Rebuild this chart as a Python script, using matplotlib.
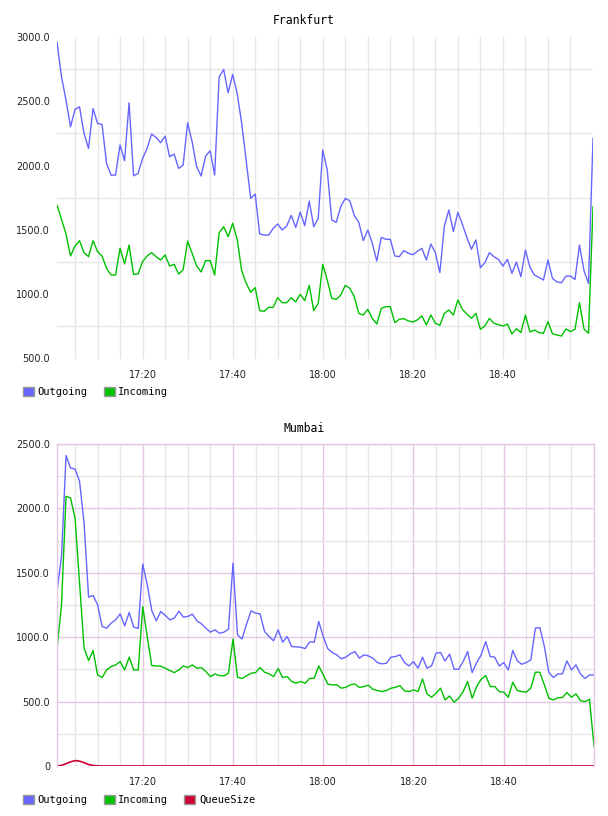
import numpy as np
import matplotlib
matplotlib.use("Agg")
import matplotlib.pyplot as plt
from matplotlib.patches import Patch
from matplotlib.ticker import FuncFormatter, MultipleLocator, FixedLocator

#######################################
# one sample per minute, 17:01 .. 19:00 (minutes after 17:00)
minutes = np.arange(1, 121)
time_ticks = [20, 40, 60, 80, 100]

fra_out = [2962, 2690, 2509, 2302, 2437, 2457, 2250, 2134, 2444, 2328,
           2320, 2017, 1926, 1926, 2160, 2038, 2488, 1921, 1939, 2056,
           2134, 2245, 2219, 2178, 2229, 2069, 2090, 1978, 2004, 2333,
           2185, 1991, 1919, 2074, 2115, 1926, 2690, 2747, 2566, 2709,
           2561, 2330, 2040, 1745, 1779, 1468, 1460, 1460, 1512, 1546,
           1499, 1530, 1613, 1520, 1639, 1533, 1724, 1525, 1590, 2121,
           1965, 1577, 1559, 1681, 1745, 1727, 1613, 1559, 1416, 1499,
           1396, 1258, 1442, 1427, 1427, 1297, 1292, 1339, 1318, 1307,
           1333, 1357, 1266, 1390, 1323, 1168, 1530, 1655, 1486, 1637,
           1543, 1442, 1349, 1422, 1206, 1245, 1323, 1292, 1271, 1219,
           1271, 1162, 1250, 1136, 1344, 1209, 1149, 1131, 1110, 1266,
           1123, 1095, 1089, 1141, 1141, 1115, 1382, 1183, 1084, 2211]

fra_in = [1693, 1582, 1468, 1297, 1375, 1416, 1323, 1292, 1416, 1331,
          1297, 1201, 1149, 1149, 1357, 1235, 1382, 1154, 1157, 1253,
          1297, 1323, 1292, 1266, 1305, 1219, 1232, 1157, 1188, 1413,
          1318, 1219, 1173, 1261, 1261, 1149, 1478, 1525, 1447, 1551,
          1427, 1183, 1085, 1015, 1051, 872, 867, 898, 898, 973,
          934, 934, 973, 940, 999, 950, 1069, 872, 929, 1232,
          1110, 968, 960, 994, 1069, 1046, 981, 851, 838, 882,
          812, 768, 890, 903, 903, 779, 805, 810, 792, 784,
          800, 831, 761, 838, 774, 758, 851, 877, 838, 955,
          882, 846, 812, 851, 727, 753, 812, 774, 763, 753,
          768, 691, 732, 701, 838, 706, 722, 701, 696, 787,
          691, 683, 675, 730, 709, 727, 934, 730, 696, 1680]

mum_out = [1355, 1627, 2410, 2314, 2306, 2210, 1886, 1311, 1324, 1251,
           1083, 1070, 1109, 1135, 1181, 1088, 1192, 1078, 1068, 1568,
           1407, 1207, 1127, 1200, 1169, 1135, 1148, 1202, 1156, 1161,
           1179, 1127, 1104, 1070, 1039, 1057, 1031, 1039, 1062, 1575,
           1018, 987, 1101, 1205, 1187, 1181, 1044, 1005, 972, 1057,
           961, 1005, 928, 925, 922, 912, 964, 961, 1122, 1005,
           911, 881, 863, 832, 845, 871, 889, 837, 863, 855,
           837, 803, 793, 798, 845, 850, 863, 803, 777, 811,
           759, 845, 759, 777, 876, 881, 816, 868, 751, 751,
           811, 889, 725, 803, 863, 966, 850, 845, 777, 803,
           746, 897, 816, 790, 803, 824, 1070, 1075, 928, 725,
           687, 715, 715, 816, 746, 785, 715, 679, 707, 707]

mum_in = [907, 1251, 2094, 2081, 1925, 1420, 915, 819, 896, 707,
          687, 746, 772, 785, 811, 746, 845, 746, 746, 1238,
          1005, 780, 777, 775, 759, 741, 725, 746, 777, 764,
          785, 759, 764, 733, 694, 715, 702, 700, 720, 985,
          689, 679, 700, 720, 725, 764, 728, 715, 694, 757,
          687, 694, 656, 643, 656, 643, 681, 681, 777, 707,
          636, 630, 630, 604, 611, 630, 637, 609, 617, 627,
          596, 586, 578, 586, 604, 611, 624, 583, 578, 591,
          578, 676, 560, 534, 565, 604, 513, 544, 495, 526,
          578, 656, 526, 617, 674, 702, 617, 617, 578, 573,
          534, 650, 586, 578, 573, 604, 728, 728, 630, 526,
          513, 531, 531, 570, 534, 560, 508, 500, 518, 155]

mum_queue = [0, 5, 18, 32, 42, 38, 25, 12, 4, 1] + [0] * 110

#######################################

C_OUT = "#6666ff"
C_IN = "#00c000"
C_Q = "#cc0033"
GRID = "#e6e6e6"
PINK = "#e2c8e2"

MONO = "DejaVu Sans Mono"


def fmt_time(m, pos=None):
    m = int(round(m))
    return "%d:%02d" % (17 + m // 60, m % 60)


def fmt_val(v, pos=None):
    return "0" if v == 0 else "%.1f" % v


def style_axes(ax, ymin, ymax, pink):
    ax.set_xlim(minutes[0], minutes[-1])
    ax.set_ylim(ymin, ymax)
    # vertical lines every 5 minutes
    for m in range(5, 120, 5):
        major = pink and m % 20 == 0
        ax.axvline(m, color=PINK if major else GRID, lw=1.0, zorder=0)
    # horizontal lines
    for v in range(ymin, ymax + 1, 250):
        if v % 500 == 0:
            if pink:
                ax.axhline(v, color=PINK, lw=1.0, zorder=0)
        else:
            ax.axhline(v, color=GRID, lw=1.0, zorder=0)
    ax.xaxis.set_major_locator(FixedLocator(time_ticks))
    ax.xaxis.set_major_formatter(FuncFormatter(fmt_time))
    ax.yaxis.set_major_locator(MultipleLocator(500))
    ax.yaxis.set_major_formatter(FuncFormatter(fmt_val))
    ax.tick_params(length=0, labelsize=7, colors="#222222")
    ax.tick_params(axis="y", pad=5)
    ax.tick_params(axis="x", pad=8)
    for s in ax.spines.values():
        s.set_visible(False)
    if pink:
        for s in ("left", "right", "top"):
            ax.spines[s].set_visible(True)
            ax.spines[s].set_color(PINK)
            ax.spines[s].set_linewidth(1.0)


fig = plt.figure(figsize=(6.08, 8.16), dpi=100)

# Frankfurt
ax1 = fig.add_axes([57 / 608, 1 - 358.5 / 816, 536 / 608, 321.5 / 816])
style_axes(ax1, 500, 3000, pink=False)
ax1.plot(minutes, fra_out, color=C_OUT, lw=1.0)
ax1.plot(minutes, fra_in, color=C_IN, lw=1.0)
fig.text(0.5, 1 - 20 / 816, "Frankfurt", ha="center", va="center",
         family=MONO, fontsize=8.3)

# Mumbai
ax2 = fig.add_axes([57 / 608, 1 - 766 / 816, 537 / 608, 322 / 816])
style_axes(ax2, 0, 2500, pink=True)
ax2.plot(minutes, mum_out, color=C_OUT, lw=1.0)
ax2.plot(minutes, mum_in, color=C_IN, lw=1.0)
ax2.plot(minutes, mum_queue, color=C_Q, lw=1.2)
fig.text(0.5, 1 - 428 / 816, "Mumbai", ha="center", va="center",
         family=MONO, fontsize=8.3)


def legend_at(ypix, names, colors):
    handles = [Patch(facecolor=c, edgecolor="#999999", lw=1.0) for c in colors]
    fig.legend(handles, names, loc="center left",
               bbox_to_anchor=(23 / 608, 1 - ypix / 816), ncol=len(names),
               frameon=False, borderpad=0, borderaxespad=0,
               handlelength=1.05, handleheight=1.05, handletextpad=0.35,
               columnspacing=1.55, prop={"family": MONO, "size": 7.5})


legend_at(392, ["Outgoing", "Incoming"], [C_OUT, C_IN])
legend_at(800, ["Outgoing", "Incoming", "QueueSize"], [C_OUT, C_IN, C_Q])

fig.savefig("out.png", dpi=100)
